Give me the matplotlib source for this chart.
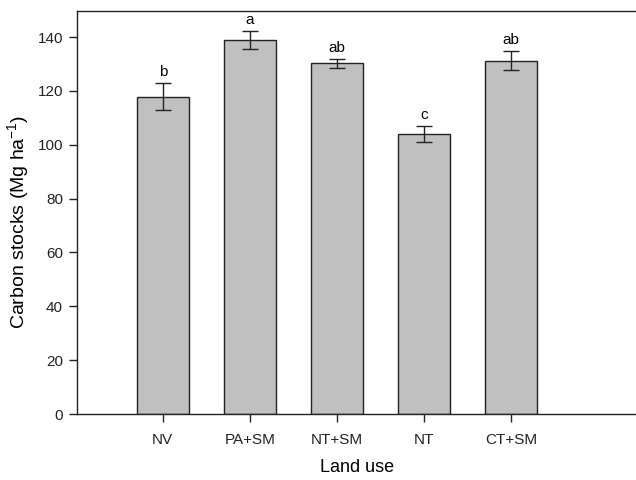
import numpy as np
import matplotlib.pyplot as plt

plt.rcParams['font.family'] = ['Liberation Sans', 'DejaVu Sans']
plt.rcParams['mathtext.default'] = 'regular'

# dados
usos = ['NV', 'PA+SM', 'NT+SM', 'NT', 'CT+SM']
estoques = [117.9, 138.9, 130.2, 104.0, 131.3]
erros = [5.1, 3.3, 1.7, 3.1, 3.6]
letras = ['b', 'a', 'ab', 'c', 'ab']

fig = plt.figure(figsize=(6.36, 4.8), dpi=100)
ax = fig.add_axes([77 / 636, 66 / 480, 1 - 77 / 636 + 0.002, 403 / 480])

x = np.arange(len(usos))
ax.bar(x, estoques, width=0.6, color='#c0c0c0', edgecolor='#222222', linewidth=1.0)
ax.errorbar(x, estoques, yerr=erros, fmt='none', ecolor='#222222',
            elinewidth=1.0, capsize=6, capthick=1.0)

for xi, v, e, l in zip(x, estoques, erros, letras):
    ax.text(xi, v + e + 1.5, l, ha='center', va='bottom', fontsize=11)

ax.set_xlim(-0.985, 4 + 1.45)
ax.set_ylim(0, 149.7)
ax.set_yticks(np.arange(0, 141, 20))
ax.set_xticks(x)
ax.set_xticklabels(usos)
ax.tick_params(direction='out', length=6, width=1, labelsize=11, colors='#222222', pad=4)
ax.tick_params(axis='x', pad=8)
for s in ax.spines.values():
    s.set_linewidth(1.0)
    s.set_color('#222222')

ax.set_xlabel('Land use', fontsize=13, labelpad=8)
ax.set_ylabel('Carbon stocks (Mg ha$^{\\mathregular{-1}}$)', fontsize=14)
ax.yaxis.set_label_coords(-0.082, 0.476)

fig.savefig('out.png', dpi=100)
